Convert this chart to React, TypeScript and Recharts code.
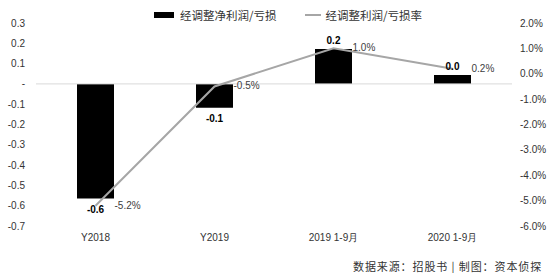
import React from "react";
import {
  ComposedChart,
  Bar,
  Line,
  XAxis,
  YAxis,
  ReferenceLine,
  LabelList,
} from "recharts";

const categories = ["Y2018", "Y2019", "2019 1-9月", "2020 1-9月"];
const adjustedProfit = [-0.565, -0.118, 0.172, 0.044];
const profitRate = [-5.2, -0.5, 1.0, 0.2];
const leftTicks = [-0.7, -0.6, -0.5, -0.4, -0.3, -0.2, -0.1, 0, 0.1, 0.2, 0.3];
const rightTicks = [-6, -5, -4, -3, -2, -1, 0, 1, 2];

const data = categories.map((c, i) => ({
  name: c,
  profit: adjustedProfit[i],
  rate: profitRate[i],
}));

const FONT = "'Liberation Sans', Arial, sans-serif";
const CJK = "'Noto Sans CJK SC', sans-serif";

const BarLabel = (props: any) => {
  const { x, y, width, height, value } = props;
  const top = Math.min(y, y + height);
  const bottom = Math.max(y, y + height);
  const cx = x + width / 2;
  const ty = value < 0 ? bottom + 14 : top - 5;
  return (
    <text
      x={cx}
      y={ty}
      textAnchor="middle"
      fontFamily={FONT}
      fontSize={10}
      fontWeight="bold"
      fill="#000"
    >
      {value.toFixed(1)}
    </text>
  );
};

const LineLabel = (props: any) => {
  const { x, y, value } = props;
  return (
    <text
      x={x + 19}
      y={y + 3}
      textAnchor="start"
      fontFamily={FONT}
      fontSize={10}
      fill="#404040"
    >
      {value.toFixed(1) + "%"}
    </text>
  );
};

export default function App() {
  return (
    <div
      style={{
        position: "absolute",
        left: 0,
        top: 0,
        width: 550,
        height: 273,
        background: "#fff",
      }}
    >
      <ComposedChart
        width={550}
        height={273}
        data={data}
        margin={{ top: 23, right: 0, bottom: 27, left: 0 }}
      >
        <XAxis
          dataKey="name"
          axisLine={false}
          tickLine={false}
          height={20}
          interval={0}
          tick={{ fontFamily: FONT, fontSize: 10, fill: "#333" }}
        />
        <YAxis
          yAxisId="left"
          orientation="left"
          width={36}
          domain={[-0.7, 0.3]}
          ticks={leftTicks}
          interval={0}
          axisLine={false}
          tickLine={false}
          tickMargin={5}
          tickFormatter={(v: number) => (Math.abs(v) < 1e-9 ? "-" : v.toFixed(1))}
          tick={{ fontFamily: FONT, fontSize: 10, fill: "#333" }}
        />
        <YAxis
          yAxisId="right"
          orientation="right"
          width={38}
          domain={[-6, 2]}
          ticks={rightTicks}
          interval={0}
          axisLine={false}
          tickLine={false}
          tickFormatter={(v: number) => v.toFixed(1) + "%"}
          tick={{ fontFamily: FONT, fontSize: 10, fill: "#333" }}
        />
        <ReferenceLine yAxisId="left" y={0} stroke="#d9d9d9" strokeWidth={1} />
        <Bar
          yAxisId="left"
          dataKey="profit"
          fill="#000"
          barSize={37}
          isAnimationActive={false}
        >
          <LabelList dataKey="profit" content={BarLabel} />
        </Bar>
        <Line
          yAxisId="right"
          dataKey="rate"
          stroke="#a6a6a6"
          strokeWidth={2}
          dot={false}
          activeDot={false}
          isAnimationActive={false}
        >
          <LabelList dataKey="rate" content={LineLabel} />
        </Line>
      </ComposedChart>
      <div
        style={{
          position: "absolute",
          left: 154,
          top: 6,
          display: "flex",
          alignItems: "center",
          fontFamily: CJK,
          fontSize: 11.5,
          color: "#333",
          whiteSpace: "nowrap",
          lineHeight: "18px",
        }}
      >
        <span
          style={{
            display: "inline-block",
            width: 20,
            height: 6,
            background: "#000",
            marginRight: 6,
          }}
        />
        <span>经调整净利润/亏损</span>
        <span
          style={{
            display: "inline-block",
            width: 16,
            height: 2,
            background: "#a6a6a6",
            marginLeft: 28,
            marginRight: 5,
          }}
        />
        <span>经调整利润/亏损率</span>
      </div>
      <div
        style={{
          position: "absolute",
          left: 353,
          top: 258,
          fontFamily: CJK,
          fontSize: 11,
          letterSpacing: 0.9,
          color: "#333",
          whiteSpace: "nowrap",
          lineHeight: "16px",
        }}
      >
        数据来源：招股书 | 制图：资本侦探
      </div>
    </div>
  );
}
